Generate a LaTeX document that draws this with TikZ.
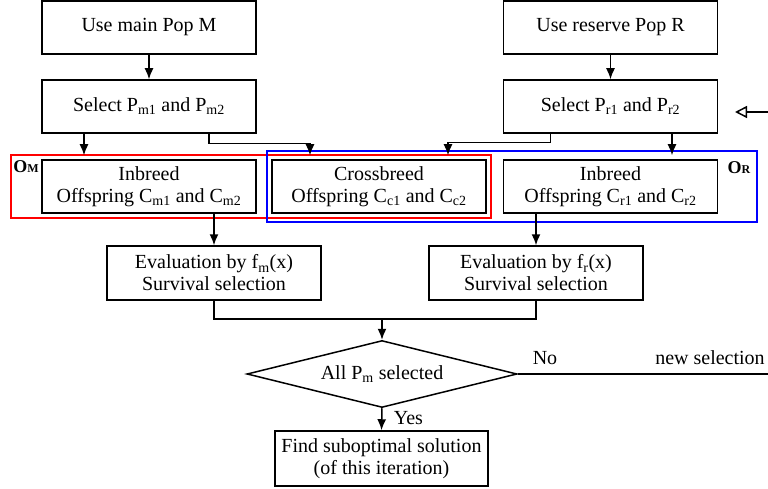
\documentclass[tikz,border=0pt]{standalone}
\usepackage{fontspec}
\setmainfont{Liberation Serif}[Ligatures=TeX]
\newfontfamily\chartfont{Liberation Serif}
\usetikzlibrary{shapes.geometric,arrows.meta}

\begin{document}
\begin{tikzpicture}[x=1pt,y=-1pt,font=\chartfont\fontsize{20}{22}\selectfont,
    box/.style={draw, line width=1.5pt, minimum width=214pt, minimum height=53pt, inner sep=2pt, align=center},
    decision/.style={draw, diamond, line width=1.5pt, aspect=4, minimum width=270pt, minimum height=67pt, inner sep=0pt},
    arr/.style={line width=1.5pt, -{Latex[length=11pt,width=9pt]}},
    line/.style={line width=1.5pt},
    group/.style={line width=1.6pt},
    tag/.style={font=\chartfont\fontsize{18}{18}\selectfont\bfseries}
    ]

    \useasboundingbox (0,0) rectangle (768,489);

    \node[box] (mainpop) at (149,27.5) {Use main Pop M};
    \node[box] (selm) at (149,106.5) {Select P\textsubscript{m1} and P\textsubscript{m2}};
    \node[box] (respop) at (610.5,27.5) {Use reserve Pop R};
    \node[box] (selr) at (610.5,106.5) {Select P\textsubscript{r1} and P\textsubscript{r2}};

    \node[box] (inbm) at (149,186.5) {Inbreed\\Offspring C\textsubscript{m1} and C\textsubscript{m2}};
    \node[box] (cross) at (379,186.5) {Crossbreed\\Offspring C\textsubscript{c1} and C\textsubscript{c2}};
    \node[box] (inbr) at (610.5,186.5) {Inbreed\\Offspring C\textsubscript{r1} and C\textsubscript{r2}};

    \node[box, minimum height=54pt] (evalm) at (214,273) {Evaluation by f\textsubscript{m}(x)\\Survival selection};
    \node[box, minimum height=54pt] (evalr) at (536,273) {Evaluation by f\textsubscript{r}(x)\\Survival selection};

    \node[decision] (dec) at (382,374) {All P\textsubscript{m} selected};
    \node[box, minimum width=213pt, minimum height=55pt] (find) at (381.5,458.5) {Find suboptimal solution\\(of this iteration)};

    % operator groups
    \draw[group, red] (11,155) rectangle (491,218);
    \draw[group, blue] (267,151) rectangle (757,222);
    \node[tag] (om) at (26,167) {O{\fontsize{12}{12}\selectfont M}};
    \node[tag] (or) at (739,168) {O{\fontsize{12}{12}\selectfont R}};

    \draw[arr] (mainpop) -- (selm);
    \draw[arr] (respop) -- (selr);
    \draw[arr] ([xshift=-65pt]selm.south) -- ([xshift=-65pt,yshift=4pt]inbm.north);
    \draw[arr] ([xshift=60pt]selm.south) -- ++(0,10) -| ([xshift=-69pt,yshift=4pt]cross.north);
    \draw[arr] ([xshift=-60pt]selr.south) -- ++(0,9) -| ([xshift=69pt,yshift=4pt]cross.north);
    \draw[arr] ([xshift=61.5pt]selr.south) -- ([xshift=61.5pt,yshift=4pt]inbr.north);

    \draw[arr] (evalm.north |- inbm.south) -- (evalm.north);
    \draw[arr] (evalr.north |- inbr.south) -- (evalr.north);
    \draw[line] (evalm.south) -- ++(0,18) coordinate (join) -| (evalr.south);
    \draw[arr] (dec.north |- join) -- (dec.north);
    \draw[arr] (dec.south) -- node[right=8pt, pos=0.45] (yes) {Yes} (find.north);

    \coordinate (outr) at (768,374);
    \draw[line] (dec.east) -- (outr);
    \node (no) at (545,358) {No};
    \node (newsel) at (710,358) {new selection};

    \coordinate (back) at (768,112);
    \coordinate (backtip) at (735,112);
    \draw[line width=1.5pt, -{Triangle[open,length=12pt,width=12pt]}] (back) -- (backtip);
    %
\end{tikzpicture}
\end{document}
